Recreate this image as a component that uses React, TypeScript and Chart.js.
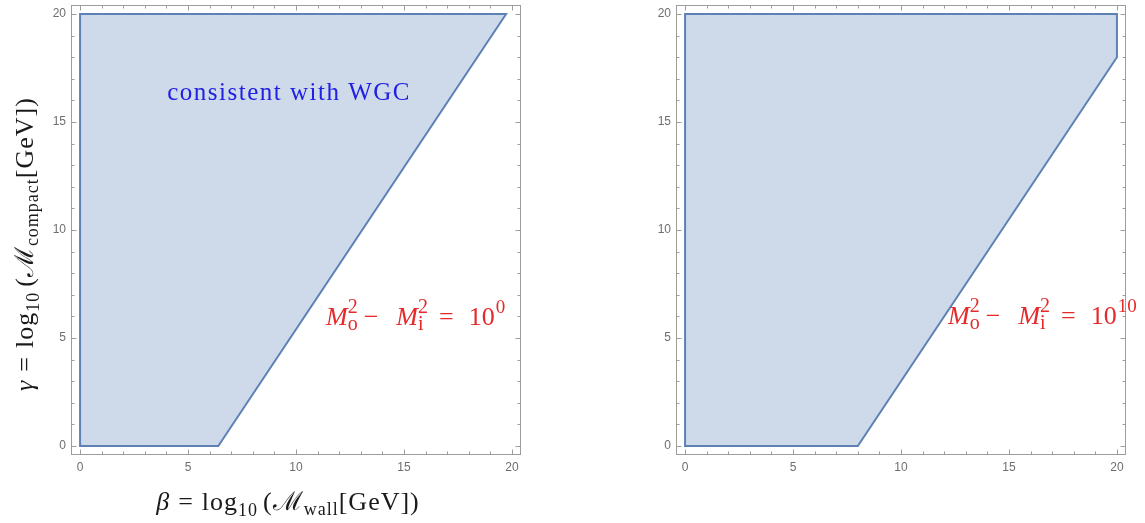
import React, { useEffect, useRef } from 'react';
import { Chart, registerables } from 'chart.js';

Chart.register(...registerables);

// ---------------- data ----------------
const betaTicks = [0, 5, 10, 15, 20];
const gammaTicks = [0, 5, 10, 15, 20];
const minorTicks = [0, 1, 2, 3, 4, 5, 6, 7, 8, 9, 10, 11, 12, 13, 14, 15, 16, 17, 18, 19, 20];
const axisMin = -0.42;
const axisMax = 20.42;

// boundary of the WGC-consistent region, left panel (M_o^2 - M_i^2 = 10^0)
const leftBeta = [0, 0, 6.4, 19.73, 0];
const leftGamma = [20, 0, 0, 20, 20];
// right panel (M_o^2 - M_i^2 = 10^10)
const rightBeta = [0, 0, 8, 20, 20, 0];
const rightGamma = [20, 0, 0, 18, 20, 20];

const regionLabel = 'consistent with WGC';
const regionLabelAt = [9.68, 16.0];
const leftExponent = '0';
const rightExponent = '10';
const leftEqAt = [11.39, 5.6];
const rightEqAt = [12.18, 5.65];

// ---------------- styles ----------------
const SERIF = '"Liberation Serif", "DejaVu Serif", serif';
const SANS = '"Liberation Sans", Arial, sans-serif';
const LINE = 'rgb(94,129,181)';
const FILL = 'rgba(94,129,181,0.3)';
const FRAME = '#9c9c9c';
const TICK = '#6e6e6e';
const BLUE = 'rgb(32,32,226)';
const RED = 'rgb(228,42,42)';
const DARK = '#1a1a1a';

type Run = { text: string; size: number; italic?: boolean; shift?: number; stack?: boolean; adv?: number };

function fontOf(r: Run) {
  return `${r.italic ? 'italic ' : ''}${r.size}px ${SERIF}`;
}

function drawRuns(ctx: CanvasRenderingContext2D, runs: Run[], x: number, y: number, align: 'left' | 'center', color: string, spacing = 0) {
  const placed: { r: Run; px: number }[] = [];
  let cur = 0;
  let prevStart = 0;
  let prevW = 0;
  (ctx as any).letterSpacing = spacing + 'px';
  for (const r of runs) {
    if (r.adv !== undefined) {
      cur += r.adv;
      continue;
    }
    ctx.font = fontOf(r);
    const w = ctx.measureText(r.text).width;
    let px: number;
    if (r.stack) {
      px = prevStart;
      cur = prevStart + Math.max(prevW, w);
    } else {
      px = cur;
      cur += w;
    }
    placed.push({ r, px });
    prevStart = px;
    prevW = w;
  }
  const x0 = align === 'center' ? x - cur / 2 : x;
  ctx.fillStyle = color;
  ctx.textAlign = 'left';
  ctx.textBaseline = 'alphabetic';
  for (const { r, px } of placed) {
    ctx.font = fontOf(r);
    ctx.fillText(r.text, x0 + px, y + (r.shift || 0));
  }
  (ctx as any).letterSpacing = '0px';
}

const gap = (n: number): Run => ({ text: '', size: 0, adv: n });

function eqRuns(exp: string): Run[] {
  return [
    { text: 'M', size: 26, italic: true },
    { text: 'o', size: 20, shift: 5 },
    { text: '2', size: 20, shift: -12, stack: true },
    gap(6),
    { text: '−', size: 26 },
    gap(18),
    { text: 'M', size: 26, italic: true },
    { text: 'i', size: 20, shift: 5 },
    { text: '2', size: 20, shift: -12, stack: true },
    gap(11),
    { text: '=', size: 26 },
    gap(15),
    { text: '10', size: 26 },
    gap(1),
    { text: exp, size: 19, shift: -12 },
  ];
}

function titleRuns(sym: string, sub: string): Run[] {
  return [
    { text: sym, size: 26, italic: true },
    gap(8),
    { text: '=', size: 26 },
    gap(8),
    { text: 'log', size: 26 },
    { text: '10', size: 18, shift: 6 },
    gap(5),
    { text: '(', size: 26 },
    { text: 'ℳ', size: 26 },
    { text: sub, size: 18, shift: 5 },
    { text: '[GeV])', size: 26 },
  ];
}

const xTitleRuns = titleRuns('β', 'wall');
const yTitleRuns = titleRuns('γ', 'compact');

const framePlugin = {
  id: 'mmaFrame',
  afterDraw(chart: any) {
    const { ctx, chartArea: a, scales } = chart;
    const xs = scales.x;
    const ys = scales.y;
    const L = Math.round(a.left) + 0.5;
    const R = Math.round(a.right) - 0.5;
    const T = Math.round(a.top) + 0.5;
    const B = Math.round(a.bottom) - 0.5;
    ctx.save();
    ctx.strokeStyle = FRAME;
    ctx.lineWidth = 1;
    ctx.strokeRect(L, T, R - L, B - T);
    ctx.beginPath();
    for (const v of minorTicks) {
      const lenX = betaTicks.includes(v) ? 5 : 3;
      const lenY = gammaTicks.includes(v) ? 5 : 3;
      const px = Math.round(xs.getPixelForValue(v)) + 0.5;
      ctx.moveTo(px, B);
      ctx.lineTo(px, B - lenX);
      ctx.moveTo(px, T);
      ctx.lineTo(px, T + lenX);
      const py = Math.round(ys.getPixelForValue(v)) + 0.5;
      ctx.moveTo(L, py);
      ctx.lineTo(L + lenY, py);
      ctx.moveTo(R, py);
      ctx.lineTo(R - lenY, py);
    }
    ctx.stroke();
    ctx.restore();
  },
};

type PanelOpts = {
  beta: number[];
  gamma: number[];
  exponent: string;
  eqAt: number[];
  label: boolean;
  titles: boolean;
  yAxisWidth: number;
  rightPad: number;
};

function makeTextPlugin(p: PanelOpts) {
  return {
    id: 'mmaText',
    afterDraw(chart: any) {
      const ctx: CanvasRenderingContext2D = chart.ctx;
      const xs = chart.scales.x;
      const ys = chart.scales.y;
      ctx.save();
      if (p.label) {
        drawRuns(ctx, [{ text: regionLabel, size: 25 }], xs.getPixelForValue(regionLabelAt[0]), ys.getPixelForValue(regionLabelAt[1]), 'center', BLUE, 1.5);
      }
      drawRuns(ctx, eqRuns(p.exponent), xs.getPixelForValue(p.eqAt[0]), ys.getPixelForValue(p.eqAt[1]), 'left', RED, 0);
      if (p.titles) {
        const a = chart.chartArea;
        drawRuns(ctx, xTitleRuns, (a.left + a.right) / 2 - 8, 510, 'center', DARK, 1.0);
        ctx.translate(33, (a.top + a.bottom) / 2 + 14);
        ctx.rotate(-Math.PI / 2);
        drawRuns(ctx, yTitleRuns, 0, 0, 'center', DARK, 1.0);
      }
      ctx.restore();
    },
  };
}

function makeConfig(p: PanelOpts): any {
  return {
    type: 'line',
    data: {
      datasets: [
        {
          data: p.beta.map((b, i) => ({ x: b, y: p.gamma[i] })),
          borderColor: LINE,
          backgroundColor: FILL,
          borderWidth: 2,
          pointRadius: 0,
          pointHoverRadius: 0,
          fill: 'shape',
          tension: 0,
          borderJoinStyle: 'miter',
          borderCapStyle: 'square',
        },
      ],
    },
    options: {
      animation: false,
      responsive: true,
      maintainAspectRatio: false,
      events: [],
      layout: { padding: { top: 5, right: p.rightPad, left: 0, bottom: 0 } },
      plugins: { legend: { display: false }, tooltip: { enabled: false } },
      scales: {
        x: {
          type: 'linear',
          min: axisMin,
          max: axisMax,
          grid: { display: false, drawTicks: false },
          border: { display: false },
          afterBuildTicks: (s: any) => {
            s.ticks = betaTicks.map((v) => ({ value: v }));
          },
          afterFit: (s: any) => {
            s.height = 68;
            s.paddingLeft = 0;
            s.paddingRight = 0;
          },
          ticks: { color: TICK, font: { family: SANS, size: 12 }, padding: 5, maxRotation: 0, autoSkip: false },
        },
        y: {
          type: 'linear',
          min: axisMin,
          max: axisMax,
          grid: { display: false, drawTicks: false },
          border: { display: false },
          afterBuildTicks: (s: any) => {
            s.ticks = gammaTicks.map((v) => ({ value: v }));
          },
          afterFit: (s: any) => {
            s.width = p.yAxisWidth;
            s.paddingTop = 0;
            s.paddingBottom = 0;
          },
          ticks: { color: TICK, font: { family: SANS, size: 12 }, padding: 5, autoSkip: false },
        },
      },
    },
    plugins: [framePlugin, makeTextPlugin(p)],
  };
}

export default function App() {
  const leftRef = useRef<HTMLCanvasElement>(null);
  const rightRef = useRef<HTMLCanvasElement>(null);

  useEffect(() => {
    const c1 = new Chart(
      leftRef.current!,
      makeConfig({
        beta: leftBeta,
        gamma: leftGamma,
        exponent: leftExponent,
        eqAt: leftEqAt,
        label: true,
        titles: true,
        yAxisWidth: 71,
        rightPad: 39,
      })
    );
    const c2 = new Chart(
      rightRef.current!,
      makeConfig({
        beta: rightBeta,
        gamma: rightGamma,
        exponent: rightExponent,
        eqAt: rightEqAt,
        label: false,
        titles: false,
        yAxisWidth: 116,
        rightPad: 19,
      })
    );
    return () => {
      c1.destroy();
      c2.destroy();
    };
  }, []);

  return (
    <div style={{ position: 'fixed', left: 0, top: 0, width: 1145, height: 523, background: '#fff' }}>
      <div style={{ position: 'absolute', left: 0, top: 0, width: 560, height: 523 }}>
        <canvas ref={leftRef} />
      </div>
      <div style={{ position: 'absolute', left: 560, top: 0, width: 585, height: 523 }}>
        <canvas ref={rightRef} />
      </div>
    </div>
  );
}
